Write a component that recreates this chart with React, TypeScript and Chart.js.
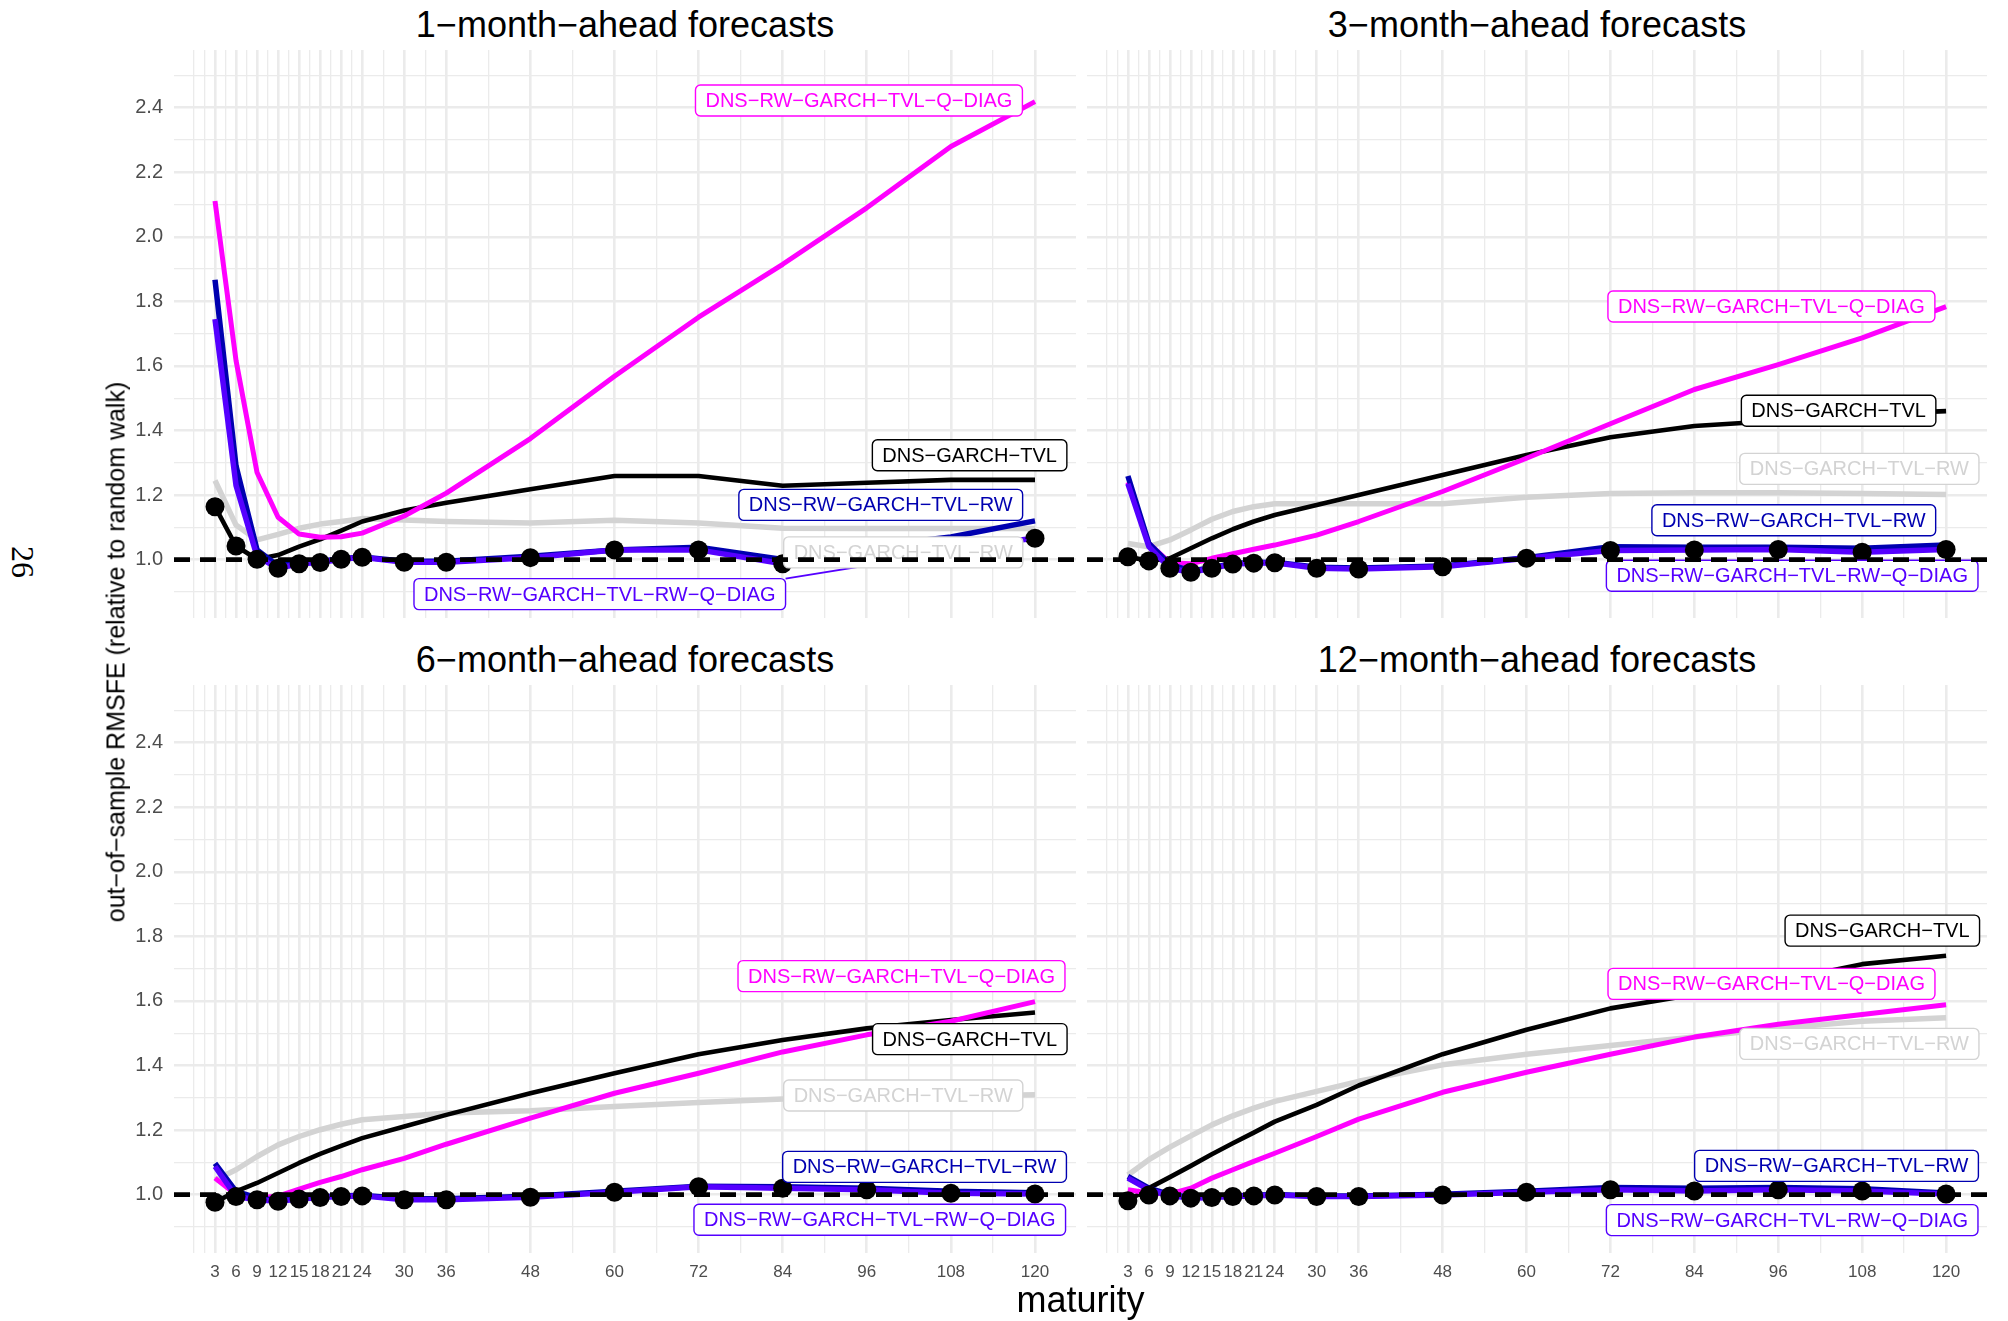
import React, { useEffect, useRef } from "react";
import { Chart, registerables } from "chart.js";

Chart.register(...registerables);

const M = "\u2212";
const SANS = '"Liberation Sans", Arial, Helvetica, sans-serif';
const SERIF = '"Liberation Serif", "DejaVu Serif", serif';

// ---- axes -------------------------------------------------------------
const maturities = [3, 6, 9, 12, 15, 18, 21, 24, 30, 36, 48, 60, 72, 84, 96, 108, 120];
const xMinorBreaks = [0, 1.5, 4.5, 7.5, 10.5, 13.5, 16.5, 19.5, 22.5, 27, 33, 42, 54, 66, 78, 90, 102, 114];
const yMajorBreaks = [1.0, 1.2, 1.4, 1.6, 1.8, 2.0, 2.2, 2.4];
const yMinorBreaks = [0.9, 1.1, 1.3, 1.5, 1.7, 1.9, 2.1, 2.3, 2.5];
const xLimits = [-2.85, 125.85];
const yLimits = [0.819, 2.579];
const referenceLevel = 1.0;

// ---- models -----------------------------------------------------------
const modelNames = [
  `DNS${M}GARCH${M}TVL`,
  `DNS${M}GARCH${M}TVL${M}RW`,
  `DNS${M}RW${M}GARCH${M}TVL${M}RW`,
  `DNS${M}RW${M}GARCH${M}TVL${M}RW${M}Q${M}DIAG`,
  `DNS${M}RW${M}GARCH${M}TVL${M}Q${M}DIAG`,
];
const modelColors = ["#000000", "#D3D3D3", "#0000B0", "#5500FF", "#FF00FF"];
const modelWidths = [4.6, 5.5, 5.5, 5.5, 5];
const modelOrder = [6, 7, 4, 3, 5];

// ---- 1-month-ahead ----------------------------------------------------
const h1Tvl = [1.164, 1.042, 1.001, 1.014, 1.04, 1.063, 1.09, 1.118, 1.152, 1.176, 1.218, 1.259, 1.259, 1.229, 1.238, 1.247, 1.247];
const h1TvlRw = [1.245, 1.107, 1.061, 1.078, 1.097, 1.11, 1.118, 1.127, 1.123, 1.118, 1.113, 1.122, 1.113, 1.097, 1.096, 1.096, 1.096];
const h1RwTvlRw = [1.867, 1.29, 1.03, 0.98, 0.99, 0.995, 1.003, 1.008, 0.995, 0.995, 1.01, 1.03, 1.038, 1.0, 1.04, 1.07, 1.12];
const h1RwTvlRwQ = [1.745, 1.23, 1.01, 0.973, 0.987, 0.991, 1.001, 1.007, 0.992, 0.992, 1.006, 1.03, 1.03, 0.987, 1.01, 1.035, 1.066];
const h1RwTvlQ = [2.111, 1.617, 1.27, 1.131, 1.079, 1.069, 1.071, 1.082, 1.135, 1.206, 1.375, 1.568, 1.751, 1.915, 2.09, 2.28, 2.419];
const h1Best = [1.164, 1.042, 1.001, 0.973, 0.987, 0.991, 1.001, 1.007, 0.992, 0.992, 1.006, 1.03, 1.03, 0.987, 1.01, 1.035, 1.066];
const h1LabelX = [110.67, 101.2, 97.99, 57.9, 94.88];
const h1LabelY = [1.3235, 1.0223, 1.1695, 0.893, 2.4227];

// ---- 3-month-ahead ----------------------------------------------------
const h3Tvl = [1.009, 0.996, 1.004, 1.035, 1.066, 1.094, 1.118, 1.138, 1.169, 1.2, 1.262, 1.324, 1.379, 1.414, 1.43, 1.45, 1.46];
const h3TvlRw = [1.05, 1.04, 1.061, 1.092, 1.125, 1.149, 1.164, 1.173, 1.173, 1.173, 1.173, 1.193, 1.205, 1.207, 1.207, 1.205, 1.202];
const h3RwTvlRw = [1.259, 1.05, 0.985, 0.965, 0.975, 0.988, 0.991, 0.992, 0.976, 0.974, 0.98, 1.006, 1.04, 1.038, 1.038, 1.035, 1.045];
const h3RwTvlRwQ = [1.235, 1.04, 0.973, 0.961, 0.973, 0.986, 0.989, 0.99, 0.973, 0.971, 0.978, 1.004, 1.028, 1.03, 1.031, 1.023, 1.031];
const h3RwTvlQ = [1.24, 1.05, 0.99, 0.987, 1.004, 1.018, 1.032, 1.045, 1.076, 1.118, 1.211, 1.314, 1.421, 1.527, 1.604, 1.687, 1.784];
const h3Best = [1.009, 0.996, 0.973, 0.961, 0.973, 0.986, 0.989, 0.99, 0.973, 0.971, 0.978, 1.004, 1.028, 1.03, 1.031, 1.023, 1.031];
const h3LabelX = [104.63, 107.6, 98.22, 97.99, 95.02];
const h3LabelY = [1.461, 1.281, 1.122, 0.95, 1.784];

// ---- 6-month-ahead ----------------------------------------------------
const h6Tvl = [0.976, 1.01, 1.036, 1.067, 1.098, 1.126, 1.151, 1.175, 1.211, 1.247, 1.314, 1.376, 1.435, 1.479, 1.515, 1.541, 1.564];
const h6TvlRw = [1.045, 1.077, 1.118, 1.154, 1.18, 1.201, 1.218, 1.232, 1.242, 1.253, 1.26, 1.273, 1.285, 1.296, 1.3, 1.305, 1.309];
const h6RwTvlRw = [1.097, 1.01, 0.99, 0.982, 0.988, 0.993, 0.996, 0.998, 0.987, 0.987, 0.995, 1.01, 1.026, 1.024, 1.02, 1.01, 1.006];
const h6RwTvlRwQ = [1.087, 0.994, 0.984, 0.979, 0.986, 0.991, 0.994, 0.996, 0.984, 0.984, 0.992, 1.007, 1.024, 1.02, 1.015, 1.004, 1.002];
const h6RwTvlQ = [1.051, 1.0, 0.99, 0.995, 1.017, 1.038, 1.056, 1.077, 1.112, 1.156, 1.237, 1.314, 1.376, 1.442, 1.495, 1.537, 1.598];
const h6Best = [0.976, 0.994, 0.984, 0.979, 0.986, 0.991, 0.994, 0.996, 0.984, 0.984, 0.992, 1.007, 1.024, 1.02, 1.015, 1.004, 1.002];
const h6LabelX = [110.7, 101.2, 104.24, 97.85, 100.95];
const h6LabelY = [1.4816, 1.307, 1.086, 0.922, 1.677];

// ---- 12-month-ahead ---------------------------------------------------
const h12Tvl = [0.981, 1.02, 1.054, 1.089, 1.125, 1.159, 1.192, 1.226, 1.278, 1.338, 1.435, 1.511, 1.577, 1.62, 1.661, 1.714, 1.74];
const h12TvlRw = [1.061, 1.108, 1.147, 1.182, 1.216, 1.244, 1.268, 1.289, 1.32, 1.351, 1.402, 1.435, 1.462, 1.488, 1.515, 1.537, 1.548];
const h12RwTvlRw = [1.056, 1.02, 1.0, 0.992, 0.993, 0.996, 0.998, 1.0, 0.996, 0.996, 1.001, 1.01, 1.022, 1.02, 1.022, 1.018, 1.005];
const h12RwTvlRwQ = [1.051, 1.015, 0.996, 0.989, 0.991, 0.994, 0.996, 0.999, 0.994, 0.994, 0.999, 1.007, 1.015, 1.011, 1.015, 1.011, 1.002];
const h12RwTvlQ = [1.015, 1.005, 1.002, 1.02, 1.051, 1.077, 1.103, 1.128, 1.18, 1.234, 1.317, 1.379, 1.435, 1.488, 1.528, 1.558, 1.588];
const h12Best = [0.981, 0.999, 0.996, 0.989, 0.991, 0.994, 0.996, 0.999, 0.994, 0.994, 0.999, 1.007, 1.015, 1.011, 1.015, 1.011, 1.002];
const h12LabelX = [110.88, 107.6, 104.33, 97.99, 95.03];
const h12LabelY = [1.818, 1.467, 1.089, 0.921, 1.653];

// ---- styling ----------------------------------------------------------
const GRID_COLOR = "#EBEBEB";
const GRID_MAJOR = 2.6;
const GRID_MINOR = 1.3;
const TICK_COLOR = "#4D4D4D";
const LABEL_SIZE = 20;
const LABEL_PAD_X = 10;
const LABEL_BOX_H = 31;
const POINT_RADIUS = 9.5;

type PanelSpec = {
  title: string;
  left: number;
  top: number;
  width: number;
  height: number;
  yAxisWidth: number;
  xAxisHeight: number;
  series: number[][];
  best: number[];
  labelX: number[];
  labelY: number[];
  segments: number[];
};

const PANEL_H = 568;
const LEFT_X = 120;
const RIGHT_X = 1087;
const TOP_Y = 50;
const BOTTOM_Y = 685;

const panels: PanelSpec[] = [
  {
    title: `1${M}month${M}ahead forecasts`,
    left: LEFT_X, top: TOP_Y, width: 956, height: PANEL_H, yAxisWidth: 54, xAxisHeight: 0,
    series: [h1Tvl, h1TvlRw, h1RwTvlRw, h1RwTvlRwQ, h1RwTvlQ], best: h1Best,
    labelX: h1LabelX, labelY: h1LabelY, segments: [3],
  },
  {
    title: `3${M}month${M}ahead forecasts`,
    left: RIGHT_X, top: TOP_Y, width: 900, height: PANEL_H, yAxisWidth: 0, xAxisHeight: 0,
    series: [h3Tvl, h3TvlRw, h3RwTvlRw, h3RwTvlRwQ, h3RwTvlQ], best: h3Best,
    labelX: h3LabelX, labelY: h3LabelY, segments: [],
  },
  {
    title: `6${M}month${M}ahead forecasts`,
    left: LEFT_X, top: BOTTOM_Y, width: 956, height: PANEL_H + 40, yAxisWidth: 54, xAxisHeight: 40,
    series: [h6Tvl, h6TvlRw, h6RwTvlRw, h6RwTvlRwQ, h6RwTvlQ], best: h6Best,
    labelX: h6LabelX, labelY: h6LabelY, segments: [],
  },
  {
    title: `12${M}month${M}ahead forecasts`,
    left: RIGHT_X, top: BOTTOM_Y, width: 900, height: PANEL_H + 40, yAxisWidth: 0, xAxisHeight: 40,
    series: [h12Tvl, h12TvlRw, h12RwTvlRw, h12RwTvlRwQ, h12RwTvlQ], best: h12Best,
    labelX: h12LabelX, labelY: h12LabelY, segments: [],
  },
];

const near = (a: number, b: number) => Math.abs(a - b) < 1e-6;
const isMajorX = (v: number) => maturities.some((m) => near(m, v));
const isMajorY = (v: number) => yMajorBreaks.some((m) => near(m, v));

function roundedRect(ctx: CanvasRenderingContext2D, x: number, y: number, w: number, h: number, r: number) {
  ctx.beginPath();
  ctx.moveTo(x + r, y);
  ctx.lineTo(x + w - r, y);
  ctx.arcTo(x + w, y, x + w, y + r, r);
  ctx.lineTo(x + w, y + h - r);
  ctx.arcTo(x + w, y + h, x + w - r, y + h, r);
  ctx.lineTo(x + r, y + h);
  ctx.arcTo(x, y + h, x, y + h - r, r);
  ctx.lineTo(x, y + r);
  ctx.arcTo(x, y, x + r, y, r);
  ctx.closePath();
}

// Model name tags with optional leader segments, drawn above the points
// and just beneath the dashed reference line.
function drawModelTags(chart: any, spec: PanelSpec) {
  const ctx: CanvasRenderingContext2D = chart.ctx;
  const xs = chart.scales.x;
  const ys = chart.scales.y;
  ctx.save();
  ctx.font = `${LABEL_SIZE}px ${SANS}`;
  const boxes = spec.labelX.map((lx, i) => {
    const text = modelNames[i];
    const w = ctx.measureText(text).width + 2 * LABEL_PAD_X;
    return { i, text, cx: xs.getPixelForValue(lx), cy: ys.getPixelForValue(spec.labelY[i]), w, h: LABEL_BOX_H };
  });

  for (const b of boxes) {
    if (!spec.segments.includes(b.i)) continue;
    const s = spec.series[b.i];
    const last = s.length - 1;
    const px = xs.getPixelForValue(maturities[last]);
    const py = ys.getPixelForValue(s[last]);
    const hw = b.w / 2;
    const hh = b.h / 2;
    const anchors = [
      [b.cx - hw, b.cy - hh], [b.cx, b.cy - hh], [b.cx + hw, b.cy - hh],
      [b.cx - hw, b.cy], [b.cx + hw, b.cy],
      [b.cx - hw, b.cy + hh], [b.cx, b.cy + hh], [b.cx + hw, b.cy + hh],
    ];
    let best = anchors[0];
    let bd = Infinity;
    for (const a of anchors) {
      const d = Math.hypot(a[0] - px, a[1] - py);
      if (d < bd) { bd = d; best = a; }
    }
    const gap = POINT_RADIUS - 1;
    const ex = px + ((best[0] - px) * gap) / bd;
    const ey = py + ((best[1] - py) * gap) / bd;
    ctx.strokeStyle = modelColors[b.i];
    ctx.lineWidth = 2;
    ctx.beginPath();
    ctx.moveTo(best[0], best[1]);
    ctx.lineTo(ex, ey);
    ctx.stroke();
  }

  for (const b of boxes) {
    const x0 = b.cx - b.w / 2;
    const y0 = b.cy - b.h / 2;
    roundedRect(ctx, x0, y0, b.w, b.h, 5);
    ctx.fillStyle = "#FFFFFF";
    ctx.fill();
    ctx.lineWidth = 1.4;
    ctx.strokeStyle = modelColors[b.i];
    ctx.stroke();
    ctx.fillStyle = modelColors[b.i];
    ctx.textAlign = "center";
    ctx.textBaseline = "middle";
    ctx.fillText(b.text, b.cx, b.cy + 1);
  }
  ctx.restore();
}

function buildConfig(spec: PanelSpec): any {
  const pts = (arr: number[]) => maturities.map((m, i) => ({ x: m, y: arr[i] }));
  const showX = spec.xAxisHeight > 0;
  const showY = spec.yAxisWidth > 0;

  const lineSets = spec.series.map((arr, i) => ({
    label: modelNames[i],
    data: pts(arr),
    borderColor: modelColors[i],
    backgroundColor: modelColors[i],
    borderWidth: modelWidths[i],
    borderCapStyle: "butt",
    borderJoinStyle: "round",
    pointRadius: 0,
    tension: 0,
    fill: false,
    order: modelOrder[i],
  }));

  const datasets: any[] = [
    ...lineSets,
    {
      label: "best",
      data: pts(spec.best),
      showLine: false,
      pointRadius: POINT_RADIUS,
      pointBackgroundColor: "#000000",
      pointBorderWidth: 0,
      order: 2,
    },
    {
      label: "random walk",
      isReference: true,
      data: [
        { x: xLimits[0], y: referenceLevel },
        { x: xLimits[1], y: referenceLevel },
      ],
      borderColor: "#000000",
      borderWidth: 4.8,
      borderDash: [16, 10],
      borderCapStyle: "butt",
      pointRadius: 0,
      order: 1,
    },
  ];

  const tagPlugin = {
    id: "modelTags",
    beforeDatasetDraw(chart: any, args: any) {
      const ds = chart.data.datasets[args.index];
      if (ds && ds.isReference) drawModelTags(chart, spec);
    },
  };

  return {
    type: "line",
    data: { datasets },
    options: {
      animation: false,
      responsive: false,
      devicePixelRatio: 1,
      events: [],
      layout: { padding: 0, autoPadding: false },
      plugins: { legend: { display: false }, tooltip: { enabled: false }, title: { display: false } },
      scales: {
        x: {
          type: "linear",
          min: xLimits[0],
          max: xLimits[1],
          afterBuildTicks: (s: any) => {
            s.ticks = [...xMinorBreaks, ...maturities].sort((a, b) => a - b).map((v) => ({ value: v }));
          },
          afterFit: (s: any) => {
            s.height = spec.xAxisHeight;
            s.paddingLeft = 0;
            s.paddingRight = 0;
            s.paddingTop = 0;
            s.paddingBottom = 0;
          },
          border: { display: false },
          grid: {
            color: GRID_COLOR,
            lineWidth: (c: any) => (c.tick && isMajorX(c.tick.value) ? GRID_MAJOR : GRID_MINOR),
            drawTicks: false,
          },
          ticks: {
            display: showX,
            autoSkip: false,
            maxRotation: 0,
            minRotation: 0,
            padding: 9,
            color: TICK_COLOR,
            font: { family: SANS, size: 17 },
            callback: (v: number) => (isMajorX(v) ? String(v) : ""),
          },
        },
        y: {
          type: "linear",
          min: yLimits[0],
          max: yLimits[1],
          afterBuildTicks: (s: any) => {
            s.ticks = [...yMinorBreaks, ...yMajorBreaks].sort((a, b) => a - b).map((v) => ({ value: v }));
          },
          afterFit: (s: any) => {
            s.width = spec.yAxisWidth;
            s.paddingLeft = 0;
            s.paddingRight = 0;
            s.paddingTop = 0;
            s.paddingBottom = 0;
          },
          border: { display: false },
          grid: {
            color: GRID_COLOR,
            lineWidth: (c: any) => (c.tick && isMajorY(c.tick.value) ? GRID_MAJOR : GRID_MINOR),
            drawTicks: false,
          },
          ticks: {
            display: showY,
            autoSkip: false,
            padding: 11,
            color: TICK_COLOR,
            font: { family: SANS, size: 20 },
            callback: (v: number) => (isMajorY(v) ? v.toFixed(1) : ""),
          },
        },
      },
    },
    plugins: [tagPlugin],
  };
}

function Panel({ spec }: { spec: PanelSpec }) {
  const ref = useRef<HTMLCanvasElement>(null);
  useEffect(() => {
    if (!ref.current) return;
    const chart = new Chart(ref.current, buildConfig(spec));
    return () => chart.destroy();
  }, [spec]);
  return (
    <canvas
      ref={ref}
      width={spec.width}
      height={spec.height}
      style={{ position: "absolute", left: spec.left, top: spec.top, width: spec.width, height: spec.height }}
    />
  );
}

// Places a single line of text with its baseline at `baseline`.
function TextAt(props: { text: string; cx: number; baseline: number; size: number; color?: string }) {
  const { text, cx, baseline, size, color } = props;
  return (
    <div
      style={{
        position: "absolute",
        left: cx,
        top: baseline - 0.8465 * size,
        transform: "translateX(-50%)",
        fontFamily: SANS,
        fontSize: size,
        lineHeight: `${size}px`,
        whiteSpace: "nowrap",
        color: color || "#000000",
      }}
    >
      {text}
    </div>
  );
}

export default function App() {
  return (
    <div
      style={{
        position: "fixed",
        left: 0,
        top: 0,
        width: 2008,
        height: 1321,
        background: "#FFFFFF",
        overflow: "hidden",
      }}
    >
      {panels.map((p) => {
        const plotLeft = p.left + p.yAxisWidth;
        const plotRight = p.left + p.width;
        return (
          <TextAt
            key={p.title}
            text={p.title}
            cx={(plotLeft + plotRight) / 2}
            baseline={p.top - 13}
            size={36}
          />
        );
      })}
      {panels.map((p) => (
        <Panel key={p.title + "-chart"} spec={p} />
      ))}
      <div
        style={{
          position: "absolute",
          left: 116,
          top: 652,
          transform: "translate(-50%, -50%) rotate(-90deg)",
          fontFamily: SANS,
          fontSize: 25,
          lineHeight: "25px",
          whiteSpace: "nowrap",
          color: "#000000",
        }}
      >
        {`out${M}of${M}sample RMSFE (relative to random walk)`}
      </div>
      <TextAt text="maturity" cx={1080.5} baseline={1312} size={36} />
      <div
        style={{
          position: "absolute",
          left: 23,
          top: 562,
          transform: "translate(-50%, -50%) rotate(90deg)",
          fontFamily: SERIF,
          fontSize: 32,
          lineHeight: "32px",
          whiteSpace: "nowrap",
          color: "#000000",
        }}
      >
        26
      </div>
    </div>
  );
}
